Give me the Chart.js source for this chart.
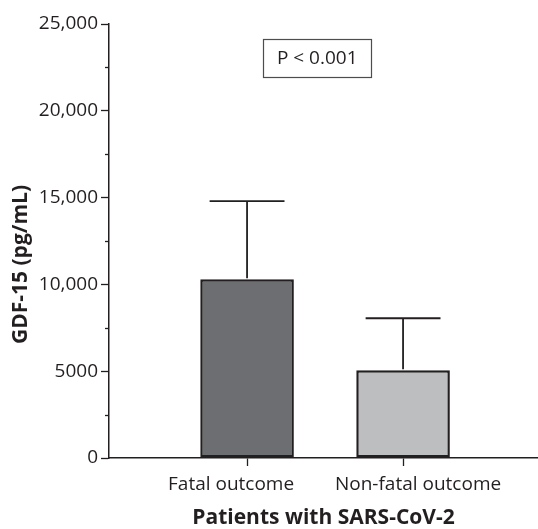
<!DOCTYPE html>
<html>
<head>
<meta charset="utf-8">
<script src="https://cdn.jsdelivr.net/npm/chart.js@4"></script>
<style>
  html, body { margin: 0; padding: 0; background: #fff; }
  #wrap { width: 538px; height: 529px; }
</style>
</head>
<body>
<div id="wrap"><canvas id="gdfChart"></canvas></div>
<script>
// data
const categories = ["Fatal outcome", "Non-fatal outcome"];
const meanValues = [10300, 5050];
const upperErrors = [14800, 8050];
const yTickValues = [0, 5000, 10000, 15000, 20000, 25000];
const pValueText = "P < 0.001";

const ink = "#231f20";
const fontFamily = "'Open Sans', sans-serif";
// the category labels sit a little apart from their tick marks
const labelShift = [-16, 15];

// ---------------- helpers ----------------

function formatTick(v) {
    return v >= 10000 ? v.toLocaleString("en-US") : String(v);
}

// error bars, minor ticks, category labels, P box and y title
const extrasPlugin = {
    id: "extras",
    afterDatasetsDraw(chart) {
        const ctx = chart.ctx;
        const x = chart.scales.x;
        const y = chart.scales.y;
        const meta = chart.getDatasetMeta(0);

        ctx.save();
        ctx.strokeStyle = ink;
        ctx.lineWidth = 1.8;

        meta.data.forEach((bar, i) => {
            const top = y.getPixelForValue(meanValues[i]);
            const up = y.getPixelForValue(upperErrors[i]);
            const half = bar.width * 0.4;
            ctx.beginPath();
            ctx.moveTo(bar.x, top - 1);
            ctx.lineTo(bar.x, up);
            ctx.moveTo(bar.x - half, up);
            ctx.lineTo(bar.x + half, up);
            ctx.stroke();
        });

        // minor ticks halfway between the labelled ones
        ctx.lineWidth = 1.3;
        for (let i = 0; i < yTickValues.length - 1; i++) {
            const mid = (yTickValues[i] + yTickValues[i + 1]) / 2;
            const py = Math.round(y.getPixelForValue(mid)) + 0.5;
            ctx.beginPath();
            ctx.moveTo(x.left - 4, py);
            ctx.lineTo(x.left, py);
            ctx.stroke();
        }

        // category labels
        ctx.font = "19px " + fontFamily;
        ctx.fillStyle = ink;
        ctx.textAlign = "center";
        ctx.textBaseline = "alphabetic";
        categories.forEach((c, i) => {
            ctx.fillText(c, x.getPixelForValue(i + 1) + labelShift[i], x.top + 32);
        });

        // P value box
        const bx = x.getPixelForValue(1.45);
        const by = y.getPixelForValue(23070);
        ctx.textBaseline = "middle";
        ctx.fillText(pValueText, bx, by + 1);
        ctx.strokeStyle = "#4d4d4f";
        ctx.lineWidth = 1.2;
        ctx.strokeRect(Math.round(bx - 54) + 0.5, Math.round(by - 19) + 0.5, 108, 38);

        // y axis title, centred on the canvas height
        ctx.save();
        ctx.translate(21, chart.height / 2);
        ctx.rotate(-Math.PI / 2);
        ctx.font = "bold 21px " + fontFamily;
        ctx.fillText("GDF-15 (pg/mL)", 0, 0);
        ctx.restore();

        ctx.restore();
    }
};

// ---------------- BAR CHART ----------------

const canvas = document.getElementById("gdfChart");

new Chart(canvas, {
    type: "bar",

    data: {
        datasets: [{
            data: meanValues.map((v, i) => ({ x: i + 1, y: v })),
            backgroundColor: ["#6d6e71", "#bcbec0"],
            borderColor: ink,
            borderWidth: 2.5,
            borderSkipped: false,
            barPercentage: 0.6,
            categoryPercentage: 1
        }]
    },

    options: {
        responsive: true,
        maintainAspectRatio: false,
        animation: false,
        layout: {
            padding: { top: 24, right: 0, bottom: 0, left: 0 }
        },
        plugins: {
            legend: { display: false },
            tooltip: { enabled: false }
        },
        scales: {
            x: {
                type: "linear",
                offset: false,
                min: 0.115,
                max: 2.865,
                afterBuildTicks: scale => {
                    scale.ticks = categories.map((c, i) => ({ value: i + 1 }));
                },
                afterFit: scale => { scale.height = 71; },
                ticks: {
                    display: false
                },
                grid: {
                    offset: false,
                    drawOnChartArea: false,
                    drawTicks: true,
                    tickLength: 8,
                    tickColor: ink,
                    tickWidth: 1.3
                },
                border: { color: ink, width: 1.5 },
                title: {
                    display: true,
                    text: "Patients with SARS-CoV-2",
                    color: ink,
                    font: { family: fontFamily, size: 21, weight: "bold", lineHeight: 1 },
                    padding: { top: 4, bottom: 0 }
                }
            },
            y: {
                min: 0,
                max: 25000,
                afterBuildTicks: scale => {
                    scale.ticks = yTickValues.map(v => ({ value: v }));
                },
                afterFit: scale => { scale.width = 109; },
                ticks: {
                    callback: v => formatTick(v),
                    color: ink,
                    font: { family: fontFamily, size: 19 },
                    padding: 3
                },
                grid: {
                    drawOnChartArea: false,
                    drawTicks: true,
                    tickLength: 8,
                    tickColor: ink,
                    tickWidth: 1.3
                },
                border: { color: ink, width: 1.5 }
            }
        }
    },

    plugins: [extrasPlugin]
});
</script>
</body>
</html>
